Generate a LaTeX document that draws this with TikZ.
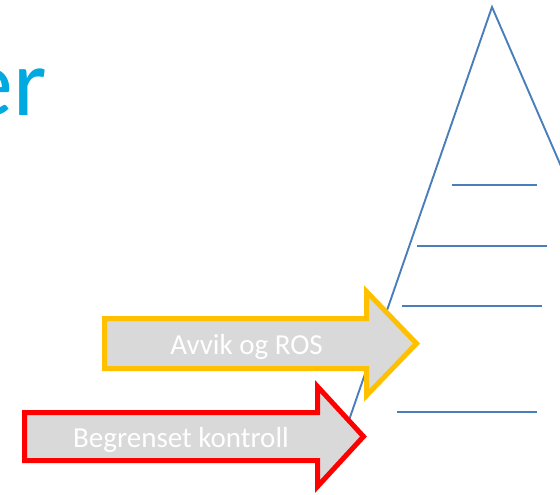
\documentclass[tikz,border=0pt]{standalone}
\usepackage{fontspec}
\setmainfont{Carlito}
\definecolor{pyrblue}{HTML}{4A7EBB}
\definecolor{arrgold}{HTML}{FFC000}
\definecolor{arrred}{HTML}{FF0000}
\definecolor{arrfill}{HTML}{D9D9D9}
\definecolor{titlecyan}{HTML}{00A9E0}
\tikzset{
  pyrline/.style={draw=pyrblue, line width=1.9pt},
  bigarrow/.style={line width=5pt, fill=arrfill, miter limit=10},
  arrowtext/.style={text=white, font=\fontsize{29}{34}\selectfont, inner sep=0pt, anchor=base},
}
\begin{document}
\begin{tikzpicture}[x=1pt, y=-1pt]
\useasboundingbox (0,0) rectangle (560,495);
\clip (0,0) rectangle (560,495);
% title fragment
\node[text=titlecyan, font=\fontsize{96}{110}\selectfont, inner sep=0pt, anchor=base east] (title) at (47,115) {er};
% pyramid
\coordinate (apex) at (492,7);
\coordinate (lfoot) at (340.4,445);
\coordinate (rfoot) at (606,270);
\draw[pyrline] (lfoot) -- (apex) -- (rfoot);
\coordinate (l1a) at (452,185); \coordinate (l1b) at (537,185);
\coordinate (l2a) at (417,246); \coordinate (l2b) at (547,246);
\coordinate (l3a) at (402,306); \coordinate (l3b) at (542,306);
\coordinate (l4a) at (397,412); \coordinate (l4b) at (537,412);
\draw[pyrline] (l1a) -- (l1b);
\draw[pyrline] (l2a) -- (l2b);
\draw[pyrline] (l3a) -- (l3b);
\draw[pyrline] (l4a) -- (l4b);
% yellow arrow
\draw[bigarrow, draw=arrgold] (104.5,318.5) -- (366.5,318.5) -- (366.5,291.5) -- (416.5,343.5) -- (366.5,395.5) -- (366.5,368.5) -- (104.5,368.5) -- cycle;
\node[arrowtext] (avvik) at (246.5,354) {Avvik og ROS};
% red arrow
\draw[bigarrow, draw=arrred] (24.5,412.5) -- (317.5,412.5) -- (317.5,386.5) -- (363.5,436.5) -- (317.5,486.5) -- (317.5,460.5) -- (24.5,460.5) -- cycle;
\node[arrowtext] (begr) at (181,447) {Begrenset kontroll};
\end{tikzpicture}
\end{document}
